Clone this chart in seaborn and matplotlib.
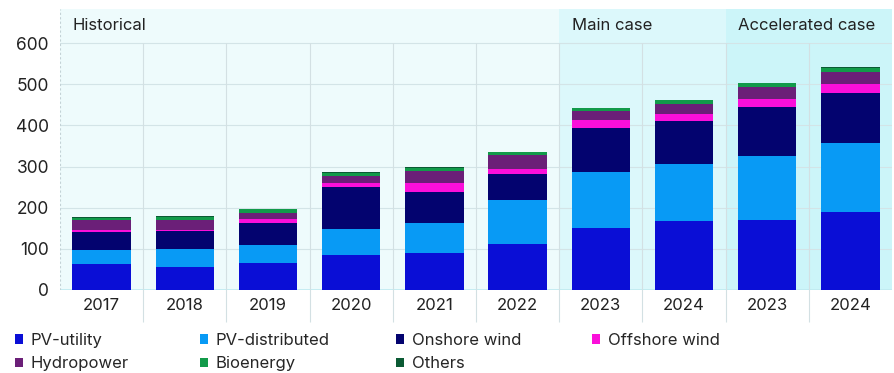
import numpy as np
import pandas as pd
import matplotlib
matplotlib.use('Agg')
import matplotlib.pyplot as plt
from matplotlib.patches import Patch
import seaborn as sns

# data (GW)
keys = ['h2017', 'h2018', 'h2019', 'h2020', 'h2021', 'h2022', 'm2023', 'm2024', 'a2023', 'a2024']
year_labels = ['2017', '2018', '2019', '2020', '2021', '2022', '2023', '2024', '2023', '2024']
pv_utility = [62, 57, 66, 86, 89, 112, 150, 167, 170, 190]
pv_distributed = [35, 42, 44, 62, 74, 107, 136, 140, 156, 168]
onshore_wind = [43, 44, 54, 103, 75, 64, 107, 103, 119, 120]
offshore_wind = [6, 4, 8, 8, 21, 11, 19, 19, 20, 22]
hydropower = [24, 22, 16, 18, 30, 33, 22, 23, 28, 29]
bioenergy = [5.5, 8.5, 8.5, 8.5, 8.5, 7.5, 7.5, 9.5, 9, 10.5]
others = [1.5, 1.5, 1.5, 1.5, 1.5, 1.5, 1.5, 1.5, 1.5, 1.5]

series_names = ['PV-utility', 'PV-distributed', 'Onshore wind', 'Offshore wind',
                'Hydropower', 'Bioenergy', 'Others']
series_vals = [pv_utility, pv_distributed, onshore_wind, offshore_wind,
               hydropower, bioenergy, others]
colors = ['#0a0ed6', '#089af5', '#03036f', '#fb0fda', '#6b1f78', '#129a4a', '#0b5a34']

sections = ['Historical', 'Main case', 'Accelerated case']
section_bounds = [(-0.5, 5.5), (5.5, 7.5), (7.5, 9.5)]
section_colors = ['#eefbfc', '#dcf8fb', '#ccf5f9']

sns.set_style('white')
plt.rcParams['font.family'] = ['Inter', 'DejaVu Sans']

fig = plt.figure(figsize=(8.94, 3.73), dpi=100)
ax = fig.add_axes([60 / 894, 83 / 373, 832 / 894, 281 / 373])
ymax = 683

# section backgrounds
for (x0, x1), c, name in zip(section_bounds, section_colors, sections):
    ax.axvspan(x0, x1, color=c, zorder=0, lw=0)
    ax.text(x0 + 0.15, 643, name, fontsize=12, color='#222222', va='center', ha='left')

# gridlines
for v in range(100, 700, 100):
    ax.axhline(v, color='#d3e4e7', lw=0.8, zorder=1)
ax.axhline(0, color='#bfeaf0', lw=1.2, zorder=1)
sep = np.arange(0.5, 9.5, 1.0)
ax.vlines(sep, -32 / 281, 600 / ymax, transform=ax.get_xaxis_transform(),
          color='#d3e0e3', lw=0.8, clip_on=False, zorder=1)
ax.axvline(-0.5, color='#c3d2d6', lw=0.8, ls=(0, (2, 2)), zorder=1)

# stacked bars: draw cumulative totals from the top layer down
df = pd.DataFrame(dict(zip(series_names, series_vals)), index=keys)
cum = df.cumsum(axis=1)
for name, c in reversed(list(zip(series_names, colors))):
    sns.barplot(x=keys, y=cum[name].values, color=c, width=0.7, saturation=1,
                ax=ax, linewidth=0, zorder=3, errorbar=None)

ax.set_xlim(-0.5, 9.5)
ax.set_ylim(0, ymax)
ax.set_yticks(range(0, 700, 100))
ax.set_xticks(range(len(keys)))
ax.set_xticklabels(year_labels, fontsize=12, color='#222222')
ax.tick_params(axis='y', labelsize=12.5, length=0, pad=8, colors='#222222')
ax.tick_params(axis='x', length=0, pad=6)
ax.set_xlabel('')
ax.set_ylabel('')
for s in ax.spines.values():
    s.set_visible(False)

# legend: four columns at fixed positions
legend_cols = [[0, 4], [1, 5], [2, 6], [3]]
col_x = [15, 200, 396, 592]
for cols, x in zip(legend_cols, col_x):
    handles = [Patch(facecolor=colors[i], edgecolor='none', label=series_names[i]) for i in cols]
    fig.legend(handles=handles, loc='upper left', bbox_to_anchor=(x / 894, 1 - 333 / 373),
               ncol=1, frameon=False, fontsize=12, handlelength=0.5, handleheight=0.5,
               handletextpad=0.45, labelspacing=0.5, borderaxespad=0, borderpad=0)

fig.savefig('out.png', dpi=100)
